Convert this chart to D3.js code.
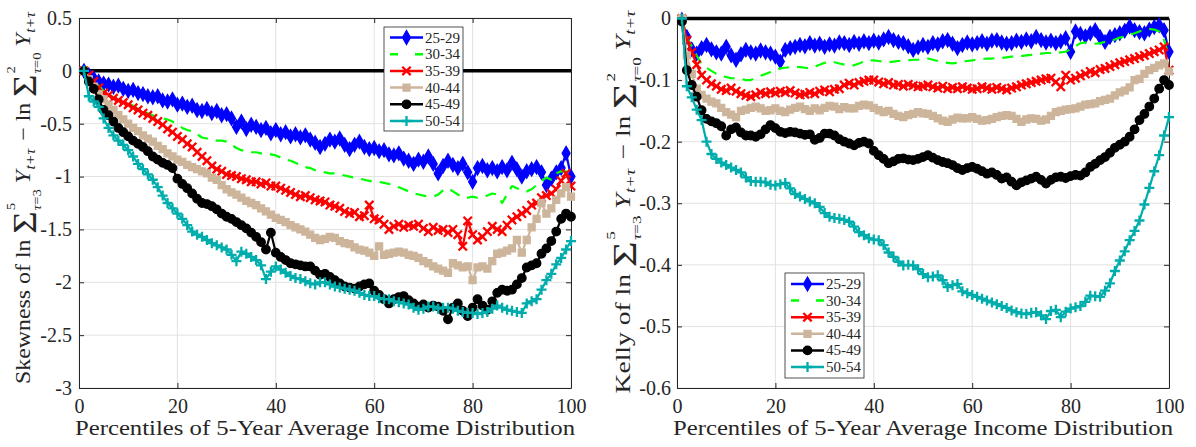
<!DOCTYPE html>
<html><head><meta charset="utf-8">
<script src="https://cdn.jsdelivr.net/npm/d3@7"></script>
<style>
body{margin:0;background:#fff}
svg{display:block}
</style>
</head><body>
<svg id="chart" width="1196" height="447"></svg>
<script>
// ---------------- DATA ----------------
const percentiles = d3.range(1, 101);
const groups = ["25-29","30-34","35-39","40-44","45-49","50-54"];
const xTicks = [0,20,40,60,80,100];
const xTickLabels = ["0","20","40","60","80","100"];
const skewTicks = [0.5,0,-0.5,-1,-1.5,-2,-2.5,-3];
const skewTickLabels = ["0.5","0","-0.5","-1","-1.5","-2","-2.5","-3"];
const kellyTicks = [0,-0.1,-0.2,-0.3,-0.4,-0.5,-0.6];
const kellyTickLabels = ["0","-0.1","-0.2","-0.3","-0.4","-0.5","-0.6"];

const skew_25_29 = [0,-0.04,-0.07,-0.10,-0.12,-0.13,-0.15,-0.14,-0.17,-0.19,
-0.18,-0.21,-0.22,-0.24,-0.25,-0.24,-0.28,-0.29,-0.27,-0.32,
-0.31,-0.34,-0.33,-0.37,-0.38,-0.36,-0.40,-0.38,-0.42,-0.41,
-0.45,-0.53,-0.48,-0.55,-0.51,-0.53,-0.56,-0.54,-0.59,-0.56,
-0.60,-0.58,-0.62,-0.60,-0.63,-0.61,-0.65,-0.68,-0.72,-0.69,
-0.65,-0.67,-0.64,-0.70,-0.74,-0.70,-0.67,-0.72,-0.74,-0.73,
-0.76,-0.75,-0.79,-0.80,-0.78,-0.83,-0.85,-0.88,-0.84,-0.86,
-0.81,-0.88,-0.97,-0.90,-0.85,-0.89,-0.92,-0.88,-0.96,-1.05,
-0.92,-0.90,-0.94,-0.92,-0.95,-0.91,-0.94,-0.87,-0.93,-1.00,
-0.95,-0.93,-0.91,-0.96,-1.08,-1.02,-0.96,-0.92,-0.78,-1.00];
const skew_30_34 = [0,-0.04,-0.09,-0.14,-0.19,-0.22,-0.25,-0.27,-0.29,-0.30,
-0.33,-0.36,-0.38,-0.40,-0.42,-0.44,-0.45,-0.46,-0.48,-0.51,
-0.54,-0.56,-0.57,-0.60,-0.63,-0.64,-0.65,-0.66,-0.66,-0.67,
-0.70,-0.73,-0.75,-0.76,-0.77,-0.77,-0.78,-0.78,-0.79,-0.80,
-0.82,-0.84,-0.85,-0.87,-0.89,-0.91,-0.92,-0.94,-0.95,-0.96,
-0.97,-0.97,-0.98,-0.99,-1.00,-1.01,-1.02,-1.03,-1.04,-1.05,
-1.05,-1.06,-1.07,-1.08,-1.10,-1.12,-1.14,-1.16,-1.17,-1.18,
-1.19,-1.19,-1.17,-1.13,-1.11,-1.14,-1.17,-1.20,-1.20,-1.19,
-1.20,-1.19,-1.18,-1.16,-1.17,-1.25,-1.17,-1.09,-1.11,-1.13,
-1.14,-1.12,-1.08,-1.04,-1.01,-1.03,-0.97,-0.95,-0.95,-0.98];
const skew_35_39 = [0,-0.04,-0.10,-0.16,-0.21,-0.23,-0.26,-0.28,-0.30,-0.32,
-0.35,-0.37,-0.40,-0.42,-0.45,-0.48,-0.51,-0.55,-0.58,-0.62,
-0.65,-0.69,-0.72,-0.77,-0.81,-0.85,-0.90,-0.93,-0.95,-0.98,
-0.99,-1.00,-1.02,-1.03,-1.05,-1.05,-1.07,-1.06,-1.09,-1.09,
-1.11,-1.13,-1.15,-1.17,-1.19,-1.18,-1.20,-1.22,-1.23,-1.24,
-1.27,-1.28,-1.30,-1.33,-1.35,-1.34,-1.38,-1.37,-1.27,-1.40,
-1.41,-1.45,-1.50,-1.47,-1.45,-1.48,-1.46,-1.47,-1.45,-1.49,
-1.52,-1.48,-1.51,-1.50,-1.53,-1.50,-1.55,-1.66,-1.42,-1.55,
-1.60,-1.57,-1.52,-1.47,-1.50,-1.52,-1.46,-1.41,-1.38,-1.35,
-1.32,-1.27,-1.25,-1.20,-1.18,-1.16,-1.12,-1.04,-0.97,-1.09];
const skew_40_44 = [0,-0.08,-0.15,-0.22,-0.27,-0.32,-0.37,-0.42,-0.46,-0.50,
-0.54,-0.57,-0.61,-0.64,-0.67,-0.71,-0.74,-0.78,-0.81,-0.84,
-0.86,-0.89,-0.91,-0.93,-0.95,-0.97,-1.01,-1.03,-1.08,-1.12,
-1.15,-1.17,-1.20,-1.23,-1.25,-1.27,-1.30,-1.33,-1.36,-1.39,
-1.41,-1.43,-1.46,-1.48,-1.50,-1.52,-1.55,-1.58,-1.60,-1.59,
-1.57,-1.58,-1.61,-1.63,-1.64,-1.67,-1.69,-1.70,-1.72,-1.75,
-1.66,-1.74,-1.73,-1.72,-1.71,-1.72,-1.74,-1.75,-1.77,-1.80,
-1.82,-1.85,-1.87,-1.89,-1.91,-1.82,-1.84,-1.86,-1.85,-1.98,
-1.86,-1.85,-1.87,-1.80,-1.73,-1.72,-1.70,-1.68,-1.60,-1.72,
-1.60,-1.48,-1.40,-1.25,-1.35,-1.30,-1.22,-1.16,-1.10,-1.19];
const skew_45_49 = [0,-0.10,-0.17,-0.27,-0.37,-0.42,-0.48,-0.54,-0.58,-0.62,
-0.66,-0.69,-0.72,-0.76,-0.81,-0.84,-0.87,-0.89,-0.92,-1.02,
-1.07,-1.11,-1.16,-1.21,-1.25,-1.26,-1.28,-1.31,-1.35,-1.38,
-1.40,-1.43,-1.46,-1.49,-1.53,-1.57,-1.62,-1.69,-1.53,-1.72,
-1.76,-1.79,-1.82,-1.83,-1.84,-1.85,-1.85,-1.89,-1.93,-1.92,
-1.95,-1.98,-2.01,-2.04,-2.05,-2.06,-2.04,-2.02,-2.01,-2.08,
-2.12,-2.16,-2.20,-2.16,-2.14,-2.13,-2.17,-2.20,-2.23,-2.21,
-2.24,-2.22,-2.23,-2.27,-2.35,-2.24,-2.20,-2.27,-2.32,-2.24,
-2.16,-2.22,-2.26,-2.18,-2.10,-2.07,-2.08,-2.07,-2.02,-1.96,
-1.86,-1.84,-1.82,-1.73,-1.68,-1.61,-1.52,-1.40,-1.35,-1.38];
const skew_50_54 = [0,-0.24,-0.29,-0.34,-0.45,-0.54,-0.61,-0.66,-0.70,-0.75,
-0.81,-0.88,-0.93,-0.98,-1.03,-1.10,-1.18,-1.25,-1.30,-1.35,
-1.40,-1.46,-1.52,-1.55,-1.57,-1.60,-1.63,-1.65,-1.67,-1.69,
-1.74,-1.80,-1.71,-1.73,-1.76,-1.79,-1.84,-1.97,-1.90,-1.85,
-1.88,-1.91,-1.94,-1.96,-1.97,-1.99,-2.01,-2.02,-2.00,-2.00,
-2.02,-2.04,-2.05,-2.06,-2.07,-2.08,-2.10,-2.12,-2.13,-2.13,
-2.15,-2.16,-2.16,-2.18,-2.19,-2.20,-2.21,-2.24,-2.26,-2.25,
-2.23,-2.23,-2.25,-2.24,-2.24,-2.25,-2.27,-2.28,-2.29,-2.29,
-2.30,-2.29,-2.28,-2.25,-2.22,-2.24,-2.26,-2.27,-2.28,-2.29,
-2.20,-2.18,-2.16,-2.07,-1.98,-1.92,-1.83,-1.77,-1.69,-1.61];

const kelly_25_29 = [-0.002,-0.030,-0.050,-0.057,-0.048,-0.043,-0.050,-0.055,-0.057,-0.046,
-0.060,-0.067,-0.058,-0.051,-0.055,-0.057,-0.052,-0.055,-0.057,-0.062,
-0.070,-0.051,-0.048,-0.046,-0.043,-0.045,-0.040,-0.044,-0.041,-0.046,
-0.042,-0.044,-0.039,-0.040,-0.043,-0.038,-0.041,-0.037,-0.040,-0.036,
-0.039,-0.034,-0.030,-0.035,-0.038,-0.040,-0.045,-0.051,-0.047,-0.043,
-0.046,-0.040,-0.042,-0.037,-0.035,-0.041,-0.048,-0.043,-0.039,-0.042,
-0.040,-0.037,-0.041,-0.036,-0.035,-0.039,-0.041,-0.040,-0.036,-0.038,
-0.034,-0.037,-0.030,-0.035,-0.039,-0.036,-0.040,-0.037,-0.032,-0.054,
-0.021,-0.025,-0.029,-0.024,-0.019,-0.030,-0.038,-0.030,-0.027,-0.024,
-0.020,-0.013,-0.019,-0.022,-0.024,-0.018,-0.014,-0.011,-0.019,-0.054];
const kelly_30_34 = [0,-0.030,-0.045,-0.060,-0.075,-0.080,-0.085,-0.090,-0.094,-0.095,
-0.097,-0.097,-0.098,-0.100,-0.100,-0.096,-0.093,-0.090,-0.087,-0.084,
-0.081,-0.080,-0.079,-0.078,-0.079,-0.080,-0.081,-0.078,-0.075,-0.072,
-0.070,-0.071,-0.073,-0.075,-0.076,-0.076,-0.073,-0.070,-0.068,-0.068,
-0.069,-0.070,-0.071,-0.070,-0.069,-0.068,-0.068,-0.067,-0.067,-0.066,
-0.065,-0.067,-0.069,-0.071,-0.072,-0.073,-0.072,-0.070,-0.069,-0.068,
-0.067,-0.066,-0.065,-0.065,-0.064,-0.064,-0.063,-0.062,-0.062,-0.061,
-0.060,-0.059,-0.057,-0.057,-0.056,-0.056,-0.055,-0.055,-0.054,-0.050,
-0.045,-0.040,-0.039,-0.040,-0.041,-0.040,-0.038,-0.037,-0.034,-0.031,
-0.029,-0.027,-0.024,-0.021,-0.019,-0.017,-0.018,-0.021,-0.035,-0.062];
const kelly_35_39 = [0,-0.035,-0.055,-0.075,-0.092,-0.100,-0.106,-0.110,-0.115,-0.117,
-0.113,-0.118,-0.122,-0.125,-0.127,-0.124,-0.120,-0.122,-0.119,-0.121,
-0.118,-0.120,-0.117,-0.121,-0.124,-0.123,-0.120,-0.122,-0.118,-0.116,
-0.119,-0.115,-0.114,-0.108,-0.105,-0.108,-0.104,-0.102,-0.100,-0.100,
-0.103,-0.106,-0.104,-0.108,-0.107,-0.110,-0.107,-0.109,-0.111,-0.110,
-0.108,-0.111,-0.113,-0.110,-0.114,-0.112,-0.114,-0.111,-0.113,-0.115,
-0.114,-0.111,-0.113,-0.115,-0.112,-0.114,-0.116,-0.113,-0.111,-0.108,
-0.106,-0.104,-0.102,-0.100,-0.098,-0.097,-0.103,-0.111,-0.092,-0.100,
-0.097,-0.093,-0.090,-0.086,-0.088,-0.083,-0.081,-0.078,-0.075,-0.072,
-0.070,-0.067,-0.065,-0.062,-0.060,-0.057,-0.054,-0.051,-0.046,-0.084];
const kelly_40_44 = [0,-0.060,-0.090,-0.114,-0.124,-0.130,-0.135,-0.138,-0.145,-0.152,
-0.156,-0.160,-0.150,-0.148,-0.145,-0.143,-0.146,-0.150,-0.149,-0.146,
-0.150,-0.152,-0.148,-0.145,-0.143,-0.147,-0.150,-0.146,-0.149,-0.145,
-0.142,-0.143,-0.147,-0.144,-0.146,-0.146,-0.142,-0.140,-0.141,-0.145,
-0.149,-0.152,-0.150,-0.155,-0.158,-0.160,-0.157,-0.155,-0.152,-0.154,
-0.155,-0.158,-0.162,-0.166,-0.168,-0.164,-0.161,-0.162,-0.162,-0.160,
-0.163,-0.166,-0.165,-0.163,-0.160,-0.158,-0.157,-0.158,-0.163,-0.168,
-0.164,-0.162,-0.163,-0.166,-0.164,-0.158,-0.152,-0.150,-0.148,-0.147,
-0.146,-0.143,-0.140,-0.139,-0.138,-0.134,-0.132,-0.130,-0.125,-0.120,
-0.117,-0.112,-0.100,-0.098,-0.090,-0.084,-0.080,-0.076,-0.073,-0.086];
const kelly_45_49 = [-0.005,-0.084,-0.108,-0.127,-0.149,-0.163,-0.167,-0.170,-0.175,-0.190,
-0.180,-0.177,-0.185,-0.190,-0.190,-0.192,-0.188,-0.180,-0.173,-0.178,
-0.184,-0.186,-0.184,-0.185,-0.187,-0.189,-0.188,-0.197,-0.194,-0.187,
-0.187,-0.190,-0.196,-0.200,-0.203,-0.206,-0.202,-0.200,-0.203,-0.215,
-0.222,-0.228,-0.235,-0.232,-0.228,-0.227,-0.229,-0.230,-0.228,-0.225,
-0.222,-0.226,-0.230,-0.233,-0.235,-0.238,-0.243,-0.246,-0.243,-0.241,
-0.244,-0.248,-0.252,-0.250,-0.254,-0.260,-0.258,-0.265,-0.271,-0.266,
-0.263,-0.260,-0.257,-0.262,-0.268,-0.262,-0.258,-0.257,-0.259,-0.256,
-0.254,-0.255,-0.250,-0.241,-0.236,-0.230,-0.225,-0.218,-0.210,-0.205,
-0.200,-0.192,-0.180,-0.165,-0.155,-0.143,-0.130,-0.114,-0.100,-0.108];
const kelly_50_54 = [0,-0.110,-0.128,-0.148,-0.165,-0.200,-0.220,-0.228,-0.234,-0.238,
-0.242,-0.246,-0.250,-0.258,-0.264,-0.265,-0.265,-0.266,-0.270,-0.271,
-0.269,-0.267,-0.276,-0.285,-0.289,-0.293,-0.297,-0.300,-0.306,-0.316,
-0.322,-0.324,-0.325,-0.327,-0.330,-0.338,-0.347,-0.352,-0.357,-0.359,
-0.360,-0.368,-0.380,-0.387,-0.395,-0.401,-0.400,-0.401,-0.407,-0.415,
-0.420,-0.419,-0.417,-0.425,-0.436,-0.433,-0.431,-0.443,-0.446,-0.449,
-0.452,-0.455,-0.458,-0.461,-0.464,-0.467,-0.470,-0.474,-0.477,-0.479,
-0.480,-0.478,-0.477,-0.482,-0.488,-0.475,-0.473,-0.485,-0.476,-0.471,
-0.469,-0.467,-0.460,-0.450,-0.451,-0.452,-0.442,-0.430,-0.410,-0.393,
-0.378,-0.360,-0.345,-0.328,-0.302,-0.275,-0.248,-0.222,-0.190,-0.160];

const skewSeries = [skew_25_29, skew_30_34, skew_35_39, skew_40_44, skew_45_49, skew_50_54];
const kellySeries = [kelly_25_29, kelly_30_34, kelly_35_39, kelly_40_44, kelly_45_49, kelly_50_54];

// ---------------- STYLE ----------------
const FONT = '"Liberation Serif", "Times New Roman", Times, "DejaVu Serif", serif';
const seriesStyle = [
  {color:"#0000ff", marker:"diamond"},
  {color:"#00ff00", marker:null, dash:"11,8"},
  {color:"#ff0000", marker:"x"},
  {color:"#cdb59b", marker:"square"},
  {color:"#000000", marker:"circle"},
  {color:"#00adad", marker:"plus"}
];
const AX = "#262626";
const svg = d3.select("#chart");

const symX = {draw(c, s){const r=Math.sqrt(s)/2;c.moveTo(-r,-r);c.lineTo(r,r);c.moveTo(-r,r);c.lineTo(r,-r);}};
const symPlus = {draw(c, s){const r=Math.sqrt(s)/2;c.moveTo(-r,0);c.lineTo(r,0);c.moveTo(0,-r);c.lineTo(0,r);}};
function markerPath(kind){
  if(kind==="diamond") return d3.symbol().type(d3.symbolDiamond).size(56)();
  if(kind==="square") return d3.symbol().type(d3.symbolSquare).size(50)();
  if(kind==="circle") return d3.symbol().type(d3.symbolCircle).size(58)();
  if(kind==="x") return d3.symbol().type(symX).size(70)();
  if(kind==="plus") return d3.symbol().type(symPlus).size(100)();
  return null;
}
function drawMarker(sel, st){
  const p = markerPath(st.marker);
  if(!p) return sel;
  const filled = st.marker==="diamond"||st.marker==="square"||st.marker==="circle";
  return sel.append("path").attr("d", p)
    .attr("fill", filled ? st.color : "none")
    .attr("stroke", st.color)
    .attr("stroke-width", filled ? 1.2 : 2.3);
}
function txt(sel){ return sel.style("font-family", FONT).attr("fill", AX); }

function yLabel(word, bx, cy, len){
  const g = svg.append("g").attr("transform", `translate(${bx},${cy}) rotate(-90)`);
  const inner = g.append("g");
  let x = 0;
  const put = (parts, size, dy) => {
    const t = txt(inner.append("text")).attr("x", x).attr("y", dy).style("font-size", size+"px");
    parts.forEach(([s,it]) => t.append("tspan").style("font-style", it?"italic":"normal").text(s));
    return t.node().getComputedTextLength();
  };
  const sumBlock = (sup, sub) => {
    x += put([["\u03A3",0]], 34, 6) + 1;
    const w1 = put([[sup,0]], 13, -15);
    const w2 = put([["\u03C4",1],["="+sub,0]], 13, 11);
    x += Math.max(w1,w2) + 5;
  };
  const yBlock = () => {
    x += put([["Y",1]], 21, 0) + 0.5;
    x += put([["t+\u03C4",1]], 14, 5);
  };
  x += put([[word+" of ln",0]], 21, 0) + 5;
  sumBlock("5","3");
  yBlock();
  x += 7;
  x += put([["\u2212 ln",0]], 21, 0) + 5;
  sumBlock("2","0");
  yBlock();
  const s = len / x;
  inner.attr("transform", `scale(${s},1) translate(${-x/2},0)`);
}

function panel(o){
  const x = d3.scaleLinear().domain([0,100]).range([o.l, o.r]);
  const y = d3.scaleLinear().domain(o.ydom).range([o.b, o.t]);
  const g = svg.append("g");
  // grid
  g.append("g").selectAll("line").data(xTicks).join("line")
    .attr("x1", d=>x(d)).attr("x2", d=>x(d)).attr("y1", o.t).attr("y2", o.b)
    .attr("stroke", "#e2e2e2").attr("stroke-width", 1);
  g.append("g").selectAll("line").data(o.ticks).join("line")
    .attr("x1", o.l).attr("x2", o.r).attr("y1", d=>y(d)).attr("y2", d=>y(d))
    .attr("stroke", "#e2e2e2").attr("stroke-width", 1);
  // axes
  const styleAxis = sel => {
    sel.attr("font-family", FONT).attr("font-size", null);
    sel.selectAll("path.domain").attr("stroke", AX).attr("stroke-width", 1);
    sel.selectAll(".tick line").attr("stroke", AX).attr("stroke-width", 1);
    txt(sel.selectAll("text")).style("font-size", "20px");
  };
  g.append("g").attr("transform", `translate(0,${o.b})`)
    .call(d3.axisBottom(x).tickValues(xTicks).tickSize(-5).tickSizeOuter(0).tickPadding(11)
      .tickFormat((d,i)=>xTickLabels[i])).call(styleAxis);
  g.append("g").attr("transform", `translate(${o.l},0)`)
    .call(d3.axisLeft(y).tickValues(o.ticks).tickSize(-5).tickSizeOuter(0).tickPadding(o.pad)
      .tickFormat((d,i)=>o.tickLabels[i])).call(styleAxis);
  g.append("g").attr("transform", `translate(0,${o.t})`)
    .call(d3.axisTop(x).tickValues(xTicks).tickSize(-5).tickSizeOuter(0).tickFormat(()=>"")).call(styleAxis);
  g.append("g").attr("transform", `translate(${o.r},0)`)
    .call(d3.axisRight(y).tickValues(o.ticks).tickSize(-5).tickSizeOuter(0).tickFormat(()=>"")).call(styleAxis);
  // zero line
  g.append("line").attr("x1", x(0)).attr("x2", x(100)).attr("y1", y(0)).attr("y2", y(0))
    .attr("stroke", "#000").attr("stroke-width", 3.5);
  // series
  const line = d3.line().x((d,i)=>x(percentiles[i])).y(d=>y(d));
  o.series.forEach((vals, k) => {
    const st = seriesStyle[k];
    g.append("path").attr("d", line(vals)).attr("fill","none")
      .attr("stroke", st.color).attr("stroke-width", 2.2)
      .attr("stroke-linejoin","round")
      .attr("stroke-dasharray", st.dash || null);
    if (st.marker) {
      const mg = g.append("g");
      vals.forEach((v,i) => {
        drawMarker(mg.append("g").attr("transform", `translate(${x(percentiles[i])},${y(v)})`), st);
      });
    }
  });
  // legend
  const L = o.legend;
  const lg = svg.append("g");
  lg.append("rect").attr("x", L.x).attr("y", L.y).attr("width", L.w).attr("height", L.h)
    .attr("fill", "#fff").attr("stroke", AX).attr("stroke-width", 0.8);
  groups.forEach((name, k) => {
    const st = seriesStyle[k];
    const cy = L.y + L.first + k*L.step;
    lg.append("line").attr("x1", L.x+6).attr("x2", L.x+39).attr("y1", cy).attr("y2", cy)
      .attr("stroke", st.color).attr("stroke-width", 2.5)
      .attr("stroke-dasharray", st.dash ? "8,17" : null);
    if (st.marker) drawMarker(lg.append("g").attr("transform", `translate(${L.x+22.5},${cy})`), st);
    txt(lg.append("text")).attr("x", L.x+41).attr("y", cy+5).style("font-size","15px").text(name);
  });
  // x label
  txt(svg.append("text")).attr("x", (o.l+o.r)/2).attr("y", 434.5).attr("text-anchor","middle")
    .style("font-size","21px").attr("textLength", 500).attr("lengthAdjust","spacingAndGlyphs")
    .text("Percentiles of 5-Year Average Income Distribution");
  yLabel(o.word, o.labX, o.labY, o.labLen);
}

panel({l:79, r:571, t:18, b:388, ydom:[-3,0.5], ticks:skewTicks, tickLabels:skewTickLabels, pad:7,
  series:skewSeries, legend:{x:384, y:27, w:79, h:104, first:10.5, step:16.7},
  word:"Skewness", labX:30, labY:198, labLen:372});
panel({l:677, r:1169, t:18.5, b:388, ydom:[-0.6,0], ticks:kellyTicks, tickLabels:kellyTickLabels, pad:6,
  series:kellySeries, legend:{x:785, y:273, w:79, h:105, first:11, step:16.6},
  word:"Kelly", labX:630, labY:202, labLen:383});
</script>
</body></html>
